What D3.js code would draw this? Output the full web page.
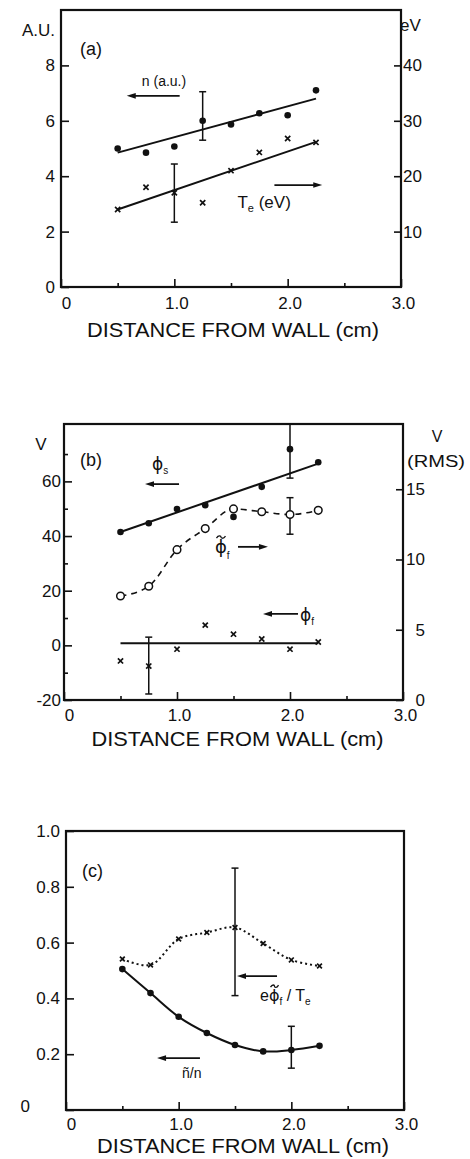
<!DOCTYPE html>
<html>
<head>
<meta charset="utf-8">
<script src="https://cdn.jsdelivr.net/npm/d3@7"></script>
<style>
  html, body { margin: 0; padding: 0; background: #fff; }
  svg { display: block; }
  text { font-family: "Liberation Sans", Arial, sans-serif; fill: #111; }
  .greek { font-family: "DejaVu Sans", sans-serif; }
  .tick text { font-size: 17px; }
  .tick line { stroke: #111; stroke-width: 1.6; }
</style>
</head>
<body>
<svg id="fig" width="470" height="1159"></svg>
<script>
// Probe positions (cm from the wall)
const distance = [0.5, 0.75, 1.0, 1.25, 1.5, 1.75, 2.0, 2.25];
const fitEnds = [0.5, 2.25];

// (a) density (a.u.) and electron temperature (eV)
const densityAU = [5.0, 4.85, 5.07, 6.0, 5.87, 6.27, 6.2, 7.1];
const densityFit = [4.85, 6.8];
const densityErrorBar = [1.25, 5.3, 7.05];        // x, low, high
const electronTemp = [14.0, 18.0, 17.0, 15.2, 21.0, 24.3, 26.8, 26.1];
const tempFit = [14.0, 26.2];
const tempErrorBar = [1.0, 11.7, 22.2];

// (b) sheath potential, floating potential (V) and floating-potential fluctuation (V RMS)
const sheathPotential = [41.5, 44.7, 49.9, 51.3, 47.0, 58.0, 71.8, 67.0];
const sheathFit = [41.5, 66.5];
const sheathErrorBar = [2.0, 61.2, 81];
const floatingRms = [7.4, 8.1, 10.7, 12.2, 13.6, 13.4, 13.2, 13.5];
const floatingRmsErrorBar = [2.0, 11.8, 14.4];
const floatingPotential = [-5.7, -7.6, -1.4, 7.4, 4.1, 2.3, -1.4, 1.2];
const floatingFit = [0.8, 0.8];
const floatingErrorBar = [0.75, -17.8, 3.0];

// (c) relative fluctuation levels
const densityFluct = [0.505, 0.419, 0.334, 0.276, 0.233, 0.21, 0.215, 0.23];
const densityFluctErrorBar = [2.0, 0.15, 0.30];
const potentialFluct = [0.541, 0.52, 0.613, 0.636, 0.654, 0.597, 0.538, 0.516];
const potentialFluctErrorBar = [1.5, 0.41, 0.867];

// Axis ticks and labels
const xTickValues = [0, 1, 2, 3];
const xTickLabels = ["0", "1.0", "2.0", "3.0"];
const xMinorTicks = [0.5, 1.5, 2.5];
const aLeftTicks = [0, 2, 4, 6, 8];
const aRightTicks = [10, 20, 30, 40];
const bLeftTicks = [-20, 0, 20, 40, 60];
const bLeftMinor = [-10, 10, 30, 50, 70];
const bRightTicks = [0, 5, 10, 15];
const cLeftTicks = [0, 0.2, 0.4, 0.6, 0.8, 1.0];
const cLeftLabels = ["0", "0.2", "0.4", "0.6", "0.8", "1.0"];
const xTitle = "DISTANCE FROM WALL (cm)";

const svg = d3.select("#fig");
const INK = "#111";

// ---------- helpers ----------
function frame(g, x, y) {
  const [x0, x1] = x.range(), [y0, y1] = y.range();
  g.append("rect")
    .attr("x", x0).attr("y", y1)
    .attr("width", x1 - x0).attr("height", y0 - y1)
    .attr("fill", "none").attr("stroke", INK).attr("stroke-width", 2.2);
}

function bottomAxis(g, x, y, labelDy, titleDy, titleDx) {
  const y0 = y.range()[0];
  const major = g.append("g").attr("transform", `translate(0,${y0})`)
    .call(d3.axisBottom(x).tickValues(xTickValues)
      .tickFormat((d, i) => xTickLabels[i])
      .tickSizeInner(-8).tickSizeOuter(0).tickPadding(labelDy));
  major.select(".domain").remove();
  major.selectAll(".tick text").attr("dx", d => d === 0 ? 5 : 2);
  g.append("g").attr("transform", `translate(0,${y0})`)
    .call(d3.axisBottom(x).tickValues(xMinorTicks).tickFormat("")
      .tickSizeInner(-4).tickSizeOuter(0))
    .select(".domain").remove();
  g.append("text")
    .attr("x", x(1.5) + titleDx).attr("y", y0 + titleDy)
    .attr("text-anchor", "middle")
    .attr("font-size", 21)
    .attr("textLength", 292).attr("lengthAdjust", "spacingAndGlyphs")
    .text(xTitle);
}

function leftAxis(g, x, y, ticks, labels, minor, pad) {
  const x0 = x.range()[0];
  const a = g.append("g").attr("transform", `translate(${x0},0)`)
    .call(d3.axisLeft(y).tickValues(ticks)
      .tickFormat((d, i) => labels[i])
      .tickSizeInner(-8).tickSizeOuter(0).tickPadding(pad));
  a.select(".domain").remove();
  if (minor) {
    g.append("g").attr("transform", `translate(${x0},0)`)
      .call(d3.axisLeft(y).tickValues(minor).tickFormat("")
        .tickSizeInner(-4).tickSizeOuter(0))
      .select(".domain").remove();
  }
  return a;
}

function rightAxis(g, x, y, ticks, pad) {
  const x1 = x.range()[1];
  const a = g.append("g").attr("transform", `translate(${x1},0)`)
    .call(d3.axisRight(y).tickValues(ticks)
      .tickSizeInner(-7).tickSizeOuter(0).tickPadding(pad));
  a.select(".domain").remove();
  return a;
}

function errorBar(g, x, y, eb, cap = 3.5) {
  const [xv, lo, hi] = eb;
  const px = x(xv);
  g.append("line").attr("x1", px).attr("x2", px)
    .attr("y1", y(lo)).attr("y2", y(hi))
    .attr("stroke", INK).attr("stroke-width", 1.5);
  [lo, hi].forEach(v => g.append("line")
    .attr("x1", px - cap).attr("x2", px + cap)
    .attr("y1", y(v)).attr("y2", y(v))
    .attr("stroke", INK).attr("stroke-width", 1.5));
}

function dots(g, x, y, vals, r = 3.3) {
  g.selectAll(null).data(vals).join("circle")
    .attr("cx", (d, i) => x(distance[i])).attr("cy", d => y(d))
    .attr("r", r).attr("fill", INK);
}

function rings(g, x, y, vals, r = 3.8) {
  g.selectAll(null).data(vals).join("circle")
    .attr("cx", (d, i) => x(distance[i])).attr("cy", d => y(d))
    .attr("r", r).attr("fill", "#fff").attr("stroke", INK).attr("stroke-width", 1.5);
}

function crosses(g, x, y, vals, s = 2.6) {
  g.selectAll(null).data(vals).join("path")
    .attr("transform", (d, i) => `translate(${x(distance[i])},${y(d)})`)
    .attr("d", `M${-s},${-s}L${s},${s}M${-s},${s}L${s},${-s}`)
    .attr("stroke", INK).attr("stroke-width", 1.7).attr("fill", "none");
}

function fitLine(g, x, y, ends) {
  g.append("path")
    .datum(fitEnds.map((d, i) => [d, ends[i]]))
    .attr("d", d3.line().x(d => x(d[0])).y(d => y(d[1])))
    .attr("fill", "none").attr("stroke", INK).attr("stroke-width", 2);
}

function curve(g, x, y, vals, dash, width, type) {
  g.append("path")
    .datum(vals.map((v, i) => [distance[i], v]))
    .attr("d", d3.line().curve(type).x(d => x(d[0])).y(d => y(d[1])))
    .attr("fill", "none").attr("stroke", INK).attr("stroke-width", width)
    .attr("stroke-dasharray", dash);
}

// arrow from (x1,y1) with head at (x2,y2)
function arrow(g, x1, y1, x2, y2) {
  const dir = Math.sign(x2 - x1);
  g.append("line").attr("x1", x1).attr("y1", y1).attr("x2", x2 - dir * 4).attr("y2", y2)
    .attr("stroke", INK).attr("stroke-width", 1.8);
  g.append("path")
    .attr("d", `M${x2},${y2}L${x2 - dir * 9},${y2 - 2.8}L${x2 - dir * 9},${y2 + 2.8}Z`)
    .attr("fill", INK);
}

// small wavy accent drawn over a symbol
function tilde(g, cx, cy, w) {
  const h = w / 2;
  g.append("path")
    .attr("d", `M${cx - h},${cy + 1}C${cx - h / 2},${cy - 2.5} ${cx},${cy - 1} ${cx},${cy}` +
               `S${cx + h / 2},${cy + 2.5} ${cx + h},${cy - 1}`)
    .attr("fill", "none").attr("stroke", INK).attr("stroke-width", 1.3);
}

function label(g, px, py, str, size, anchor = "start") {
  return g.append("text").attr("x", px).attr("y", py)
    .attr("font-size", size).attr("text-anchor", anchor).text(str);
}

function phiLabel(g, px, py, size, sub, subDy) {
  const t = g.append("text").attr("x", px).attr("y", py).attr("font-size", size);
  t.append("tspan").attr("class", "greek").text("ϕ");
  t.append("tspan").attr("font-size", 10).attr("dy", subDy).text(sub);
  return t;
}

// ---------- (a) ----------
{
  const g = svg.append("g");
  const x = d3.scaleLinear([0, 3], [61, 401]);
  const y = d3.scaleLinear([0, 10], [287, 10]);
  const yR = d3.scaleLinear([0, 50], [287, 10]);

  frame(g, x, y);
  bottomAxis(g, x, y, 10, 50, 2);
  leftAxis(g, x, y, aLeftTicks, aLeftTicks.map(String), null, 6);
  rightAxis(g, x, yR, aRightTicks, 2);

  label(g, 55, 36, "A.U.", 17, "end");
  label(g, 400, 31, "eV", 17);
  label(g, x(0.167), y(8.38), "(a)", 18);

  fitLine(g, x, y, densityFit);
  fitLine(g, x, yR, tempFit);
  errorBar(g, x, y, densityErrorBar);
  errorBar(g, x, yR, tempErrorBar);
  dots(g, x, y, densityAU);
  crosses(g, x, yR, electronTemp);

  arrow(g, x(1.047), y(6.9), x(0.58), y(6.9));
  label(g, x(0.713), y(7.24), "n (a.u.)", 14);

  arrow(g, x(1.883), yR(18.4), x(2.305), yR(18.4));
  const te = label(g, x(1.557), yR(14.3), "T", 17);
  te.append("tspan").attr("font-size", 11).attr("dy", 4).text("e");
  te.append("tspan").attr("dy", -4).text(" (eV)");
}

// ---------- (b) ----------
{
  const g = svg.append("g");
  const x = d3.scaleLinear([0, 3], [64, 403]);
  const y = d3.scaleLinear([-20, 81], [700, 424]);
  const yR = d3.scaleLinear([0, 20], [700, 419]);

  frame(g, x, y);
  bottomAxis(g, x, y, 9, 46, 4);
  leftAxis(g, x, y, bLeftTicks, bLeftTicks.map(String), bLeftMinor, 3);
  const ra = rightAxis(g, x, yR, bRightTicks, 22);
  ra.selectAll(".tick text").attr("text-anchor", "end");

  label(g, 41, 450, "V", 17, "middle");
  label(g, 437, 442, "V", 16, "middle");
  label(g, 407, 467, "(RMS)", 16).attr("textLength", 58).attr("lengthAdjust", "spacingAndGlyphs");
  label(g, x(0.142), y(65.6), "(b)", 18);

  fitLine(g, x, y, sheathFit);
  fitLine(g, x, y, floatingFit);
  curve(g, x, yR, floatingRms, "6,5", 1.6, d3.curveMonotoneX);
  errorBar(g, x, y, sheathErrorBar);
  errorBar(g, x, yR, floatingRmsErrorBar);
  errorBar(g, x, y, floatingErrorBar);
  dots(g, x, y, sheathPotential);
  rings(g, x, yR, floatingRms);
  crosses(g, x, y, floatingPotential);

  // phi_s
  arrow(g, x(1.018), y(59.0), x(0.717), y(59.0));
  phiLabel(g, x(0.779), y(64.2), 17, "s", 4);

  // fluctuating floating potential
  arrow(g, x(1.54), yR(10.9), x(1.805), yR(10.9));
  const fx = x(1.336), fy = yR(10.46);
  phiLabel(g, fx, fy, 18, "f", 6);
  tilde(g, fx + 6, fy - 16, 9);

  // phi_f
  arrow(g, x(2.071), y(11.5), x(1.761), y(11.5));
  phiLabel(g, x(2.088), y(8.9), 17, "f", 4);
}

// ---------- (c) ----------
{
  const g = svg.append("g");
  const x = d3.scaleLinear([0, 3], [66, 404]);
  const y = d3.scaleLinear([0, 1], [1110, 831]);

  frame(g, x, y);
  bottomAxis(g, x, y, 8, 43, 8);
  const la = leftAxis(g, x, y, cLeftTicks, cLeftLabels, null, 6);
  la.selectAll(".tick text").filter(d => d === 0).attr("x", -36).attr("dy", "0.1em");

  label(g, x(0.142), y(0.835), "(c)", 18);

  curve(g, x, y, potentialFluct, "2,3", 2, d3.curveCatmullRom.alpha(0.5));
  curve(g, x, y, densityFluct, null, 2, d3.curveCatmullRom.alpha(0.5));
  errorBar(g, x, y, potentialFluctErrorBar);
  errorBar(g, x, y, densityFluctErrorBar);
  crosses(g, x, y, potentialFluct, 2.4);
  dots(g, x, y, densityFluct);

  // e phi_f / T_e
  arrow(g, x(1.873), y(0.48), x(1.518), y(0.48));
  const lx = x(1.722), ly = y(0.39);
  const ep = label(g, lx, ly, "e", 16);
  ep.append("tspan").attr("class", "greek").attr("font-size", 16).text("ϕ");
  ep.append("tspan").attr("font-size", 10).attr("dy", 4).text("f");
  ep.append("tspan").attr("dy", -4).text(" / T");
  ep.append("tspan").attr("font-size", 10).attr("dy", 4).text("e");
  tilde(g, lx + 14.5, ly - 15, 8);

  // n~/n
  arrow(g, x(1.189), y(0.186), x(0.808), y(0.186));
  label(g, x(1.03), y(0.115), "ñ/n", 14);
}
</script>
</body>
</html>
